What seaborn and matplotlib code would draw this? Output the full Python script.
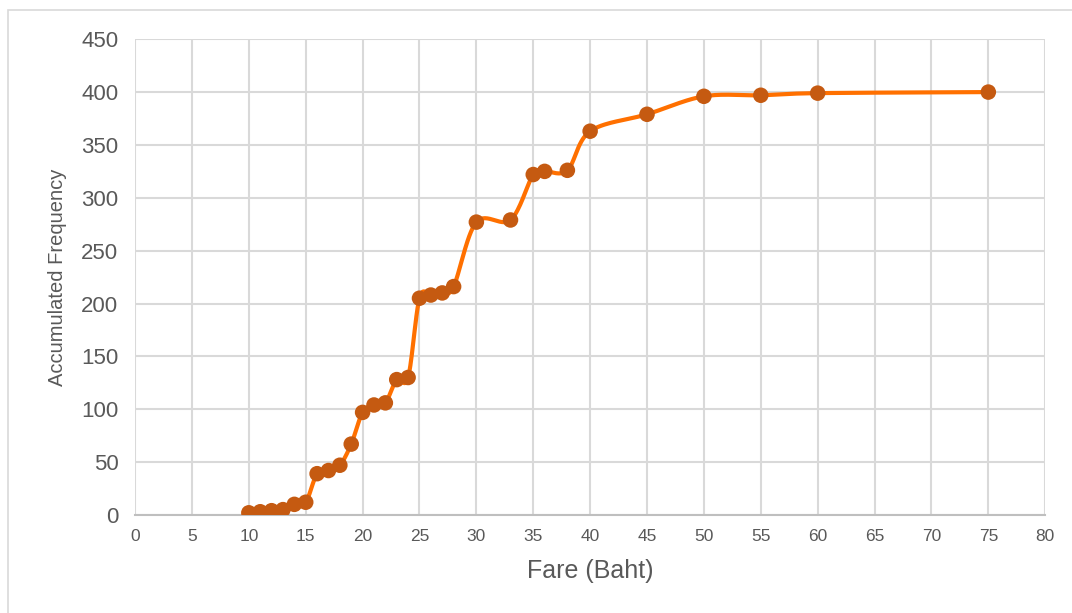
import numpy as np
import pandas as pd
import matplotlib
matplotlib.use("Agg")
import matplotlib.pyplot as plt
import seaborn as sns
from matplotlib.patches import Rectangle

# Fare (Baht) and the accumulated number of passengers at or below each fare
fares = [10, 11, 12, 13, 14, 15, 16, 17, 18, 19, 20, 21, 22, 23, 24, 25, 26, 27, 28,
         30, 33, 35, 36, 38, 40, 45, 50, 55, 60, 75]
accumulated = [2, 3, 4, 5, 10, 12, 39, 42, 47, 67, 97, 104, 106, 128, 130, 205, 208, 210, 216,
               277, 279, 322, 325, 326, 363, 379, 396, 397, 399, 400]

x_ticks = list(range(0, 81, 5))
y_ticks = list(range(0, 451, 50))

LINE_COLOR = "#FF7000"
MARKER_COLOR = "#C55A11"
TEXT_COLOR = "#595959"
GRID_COLOR = "#D9D9D9"


def smooth_path(xs, ys, steps=30, tension=0.5):
    """Cardinal-spline path through the points (spreadsheet-style smoothed line)."""
    xs = np.asarray(xs, float)
    ys = np.asarray(ys, float)
    px = np.concatenate([[xs[0]], xs, [xs[-1]]])
    py = np.concatenate([[ys[0]], ys, [ys[-1]]])
    out_x, out_y = [], []
    t = np.linspace(0, 1, steps, endpoint=False)
    for i in range(1, len(px) - 2):
        p0x, p1x, p2x, p3x = px[i - 1], px[i], px[i + 1], px[i + 2]
        p0y, p1y, p2y, p3y = py[i - 1], py[i], py[i + 1], py[i + 2]
        c1x = p1x + (p2x - p0x) * tension / 3
        c1y = p1y + (p2y - p0y) * tension / 3
        c2x = p2x - (p3x - p1x) * tension / 3
        c2y = p2y - (p3y - p1y) * tension / 3
        bx = (1 - t) ** 3 * p1x + 3 * (1 - t) ** 2 * t * c1x + 3 * (1 - t) * t ** 2 * c2x + t ** 3 * p2x
        by = (1 - t) ** 3 * p1y + 3 * (1 - t) ** 2 * t * c1y + 3 * (1 - t) * t ** 2 * c2y + t ** 3 * p2y
        out_x.extend(bx)
        out_y.extend(by)
    out_x.append(xs[-1])
    out_y.append(ys[-1])
    return np.array(out_x), np.array(out_y)


sns.set_theme(style="white")
plt.rcParams["font.family"] = ["Liberation Sans", "DejaVu Sans"]

df = pd.DataFrame({"Fare": fares, "Accumulated": accumulated})

fig = plt.figure(figsize=(10.72, 6.13), dpi=100)
ax = fig.add_axes([0.126, 0.160, 0.849, 0.776])

# chart frame
fig.patches.append(Rectangle((8 / 1072, -0.05), 1.1, 1 - 10 / 613 + 0.05,
                             transform=fig.transFigure, fill=False,
                             edgecolor=GRID_COLOR, linewidth=1.2, zorder=0))

sx, sy = smooth_path(df["Fare"], df["Accumulated"])
ax.plot(sx, sy, color=LINE_COLOR, linewidth=3, solid_capstyle="round", zorder=3)
sns.scatterplot(data=df, x="Fare", y="Accumulated", ax=ax, color=MARKER_COLOR,
                s=125, edgecolor="none", zorder=4, legend=False)

ax.set_xlim(0, 80)
ax.set_ylim(0, 450)
ax.set_xticks(x_ticks)
ax.set_yticks(y_ticks)
ax.grid(True, color=GRID_COLOR, linewidth=1.5)
ax.set_axisbelow(True)
for side in ["top", "right", "left"]:
    ax.spines[side].set_visible(False)
ax.spines["bottom"].set_color("#BFBFBF")
ax.spines["bottom"].set_linewidth(1.5)
ax.tick_params(axis="x", labelsize=12.5, colors=TEXT_COLOR, length=0, pad=10)
ax.tick_params(axis="y", labelsize=16, colors=TEXT_COLOR, length=0, pad=12)
ax.set_xlabel("Fare (Baht)", fontsize=18, color=TEXT_COLOR, labelpad=11)
ax.set_ylabel("Accumulated Frequency", fontsize=14.5, color=TEXT_COLOR, labelpad=10)

fig.savefig("out.png", dpi=100)
